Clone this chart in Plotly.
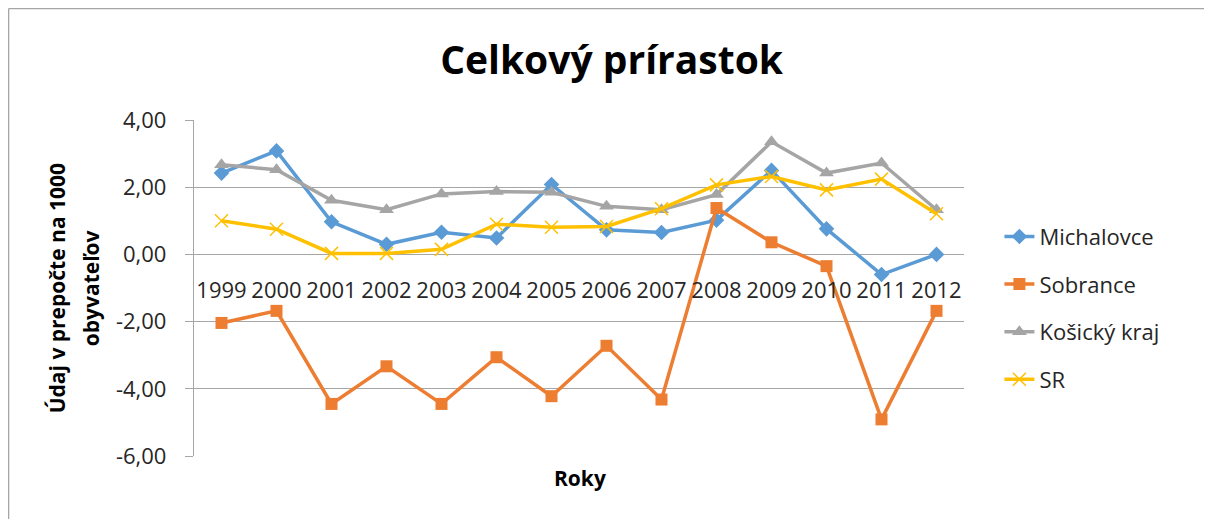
import plotly.graph_objects as go

years = ['1999', '2000', '2001', '2002', '2003', '2004', '2005',
         '2006', '2007', '2008', '2009', '2010', '2011', '2012']
michalovce = [2.42, 3.08, 0.97, 0.30, 0.66, 0.49, 2.08, 0.73, 0.65, 1.02, 2.50, 0.76, -0.60, 0.00]
sobrance = [-2.04, -1.68, -4.45, -3.33, -4.45, -3.06, -4.22, -2.72, -4.32, 1.38, 0.36, -0.35, -4.91, -1.68]
kosicky = [2.67, 2.52, 1.61, 1.33, 1.80, 1.87, 1.85, 1.43, 1.33, 1.78, 3.35, 2.42, 2.72, 1.33]
sr = [1.00, 0.75, 0.03, 0.03, 0.15, 0.90, 0.81, 0.83, 1.36, 2.07, 2.32, 1.92, 2.24, 1.21]
series_names = ['Michalovce', 'Sobrance', 'Košický kraj', 'SR']
y_tickvals = [4, 2, 0, -2, -4, -6]
y_ticktext = ['4,00', '2,00', '0,00', '-2,00', '-4,00', '-6,00']
y_title_lines = ['Údaj v prepočte na 1000', 'obyvateľov']
y_min, y_max = -6, 4

FONT = 'Open Sans'
GRID = '#a6a6a6'

fig = go.Figure()
styles = [
    dict(color='#5B9BD5', symbol='diamond', size=12, lw=0),
    dict(color='#ED7D31', symbol='square', size=12, lw=0),
    dict(color='#A5A5A5', symbol='triangle-up', size=13, lw=0),
    dict(color='#FFC000', symbol='x-thin-open', size=13, lw=1.5),
]
for name, vals, st in zip(series_names, [michalovce, sobrance, kosicky, sr], styles):
    fig.add_trace(go.Scatter(
        x=years, y=vals, name=name, mode='lines+markers',
        legendgroup=name,
        line=dict(color=st['color'], width=3.5),
        marker=dict(symbol=st['symbol'], size=st['size'], color=st['color'],
                    line=dict(color=st['color'], width=st['lw'])),
    ))

zero_pos = (0 - y_min) / (y_max - y_min)

fig.update_layout(
    width=1212, height=519,
    margin=dict(l=186, r=256, t=112, b=71),
    paper_bgcolor='white', plot_bgcolor='white',
    font=dict(family=FONT, size=22, color='#262626'),
    title=dict(text='Celkový prírastok', x=0.498, xanchor='center', y=0.90,
               yanchor='middle', yref='container',
               font=dict(family=FONT, size=39, color='black', weight='bold')),
    showlegend=True,
    legend=dict(x=1.046, xanchor='left', y=0.44, yanchor='middle',
                traceorder='grouped', tracegroupgap=16,
                font=dict(family=FONT, size=22, color='#262626'),
                bgcolor='rgba(0,0,0,0)'),
    xaxis=dict(type='category', range=[-0.5, len(years) - 0.5],
               anchor='free', position=zero_pos,
               showgrid=False, showline=False, zeroline=False,
               ticks='outside', ticklen=16, tickcolor='rgba(0,0,0,0)',
               tickfont=dict(family=FONT, size=22, color='#262626')),
    yaxis=dict(range=[y_min, y_max], tickvals=y_tickvals, ticktext=y_ticktext,
               showgrid=True, gridcolor=GRID, gridwidth=1.3,
               zeroline=False, showline=True, linecolor=GRID, linewidth=1.3,
               ticks='outside', ticklen=8, tickcolor=GRID, tickwidth=1.3,
               ticklabelstandoff=14,
               tickfont=dict(family=FONT, size=22, color='#262626')),
    annotations=[
        dict(text=y_title_lines[0], textangle=-90,
             xref='paper', yref='paper', x=-0.1775, y=0.5,
             xanchor='center', yanchor='middle', showarrow=False,
             font=dict(family=FONT, size=21, color='black', weight='bold')),
        dict(text=y_title_lines[1], textangle=-90,
             xref='paper', yref='paper', x=-0.1335, y=0.5,
             xanchor='center', yanchor='middle', showarrow=False,
             font=dict(family=FONT, size=21, color='black', weight='bold')),
        dict(text='Roky', xref='paper', yref='paper', x=0.501, y=-0.066,
             xanchor='center', yanchor='middle', showarrow=False,
             font=dict(family=FONT, size=21, color='black', weight='bold')),
    ],
    shapes=[
        dict(type='line', xref='paper', yref='paper',
             x0=-0.2407, x1=1.35, y0=1.3318, y1=1.3318,
             line=dict(color='#a6a6a6', width=1.3), layer='below'),
        dict(type='line', xref='paper', yref='paper',
             x0=-0.2407, x1=-0.2407, y0=-0.3, y1=1.3318,
             line=dict(color='#a6a6a6', width=1.3), layer='below'),
    ],
)

fig.write_html('out.html')
